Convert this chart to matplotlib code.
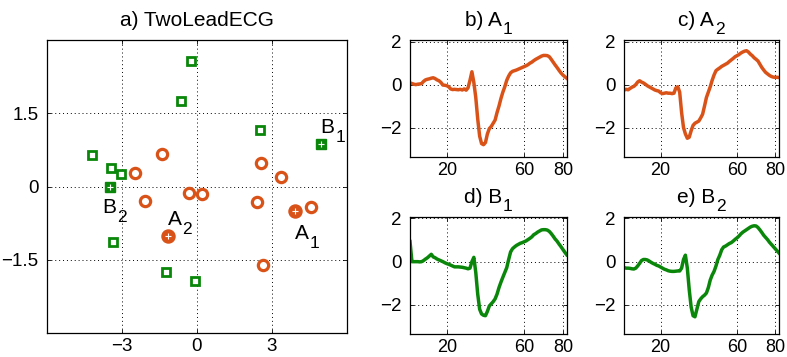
import matplotlib
matplotlib.use("Agg")
import matplotlib.pyplot as plt
from matplotlib.transforms import offset_copy

plt.rcParams['font.family'] = ['Liberation Sans', 'DejaVu Sans']

ORANGE = '#D95319'
GREEN = '#0A870A'

# ---- scatter data (panel a) ----
sq_x = [-0.24, -0.65, 2.5, -4.19, -3.45, -3.04, -3.35, -1.26, -0.07]
sq_y = [2.56, 1.75, 1.15, 0.64, 0.37, 0.25, -1.14, -1.75, -1.93]
ci_x = [-1.42, -2.5, -2.08, -0.31, 0.2, 2.54, 3.35, 2.41, 4.57, 2.63]
ci_y = [0.67, 0.27, -0.29, -0.13, -0.15, 0.48, 0.19, -0.32, -0.41, -1.6]
sel_sq_x = [4.95, -3.49]   # B1, B2
sel_sq_y = [0.87, -0.01]
sel_ci_x = [3.9, -1.18]    # A1, A2
sel_ci_y = [-0.51, -1.01]

# ---- time series (panels b-e) ----
t = list(range(1, 83))
A1 = [0.08, 0.05, 0.02, 0.0, 0.02, 0.03, 0.05, 0.15, 0.22, 0.25,
      0.27, 0.3, 0.32, 0.28, 0.22, 0.18, 0.1, -0.02, -0.03, -0.05,
      -0.1, -0.2, -0.23, -0.22, -0.23, -0.24, -0.22, -0.25, -0.2, -0.26,
      -0.15, 0.2, 0.6, 0.1, -0.6, -1.6, -2.4, -2.75, -2.8, -2.7,
      -2.3, -2.05, -1.95, -1.8, -1.65, -1.3, -1.0, -0.65, -0.35, -0.1,
      0.2, 0.4, 0.55, 0.62, 0.65, 0.68, 0.72, 0.76, 0.8, 0.84,
      0.88, 0.93, 1.0, 1.05, 1.12, 1.18, 1.23, 1.28, 1.33, 1.36,
      1.36, 1.35, 1.3, 1.18, 1.05, 0.92, 0.8, 0.67, 0.55, 0.45,
      0.37, 0.3]
A2 = [-0.25, -0.22, -0.24, -0.18, -0.12, -0.08, 0.0, 0.12, 0.18, 0.12,
      0.08, 0.02, -0.05, -0.1, -0.15, -0.2, -0.25, -0.28, -0.3, -0.38,
      -0.42, -0.4, -0.38, -0.4, -0.4, -0.42, -0.4, -0.15, -0.1, -0.35,
      -1.3, -2.0, -2.3, -2.5, -2.45, -2.15, -1.9, -1.8, -1.75, -1.7,
      -1.55, -1.38, -1.0, -0.6, -0.35, -0.1, 0.2, 0.45, 0.65, 0.72,
      0.78, 0.85, 0.9, 0.95, 1.0, 1.08, 1.15, 1.22, 1.3, 1.35,
      1.4, 1.47, 1.52, 1.56, 1.58, 1.52, 1.42, 1.35, 1.25, 1.18,
      1.1, 0.95, 0.8, 0.68, 0.57, 0.5, 0.43, 0.38, 0.35, 0.34,
      0.34, 0.33]
B1 = [0.93, 0.0, 0.0, 0.0, 0.0, -0.01, 0.0, 0.05, 0.12, 0.18,
      0.26, 0.34, 0.22, 0.18, 0.12, 0.08, 0.04, 0.0, -0.05, -0.09,
      -0.12, -0.16, -0.2, -0.24, -0.24, -0.24, -0.25, -0.26, -0.28, -0.3,
      -0.33, -0.3, 0.0, 0.2, -0.5, -1.5, -2.2, -2.42, -2.48, -2.5,
      -2.3, -2.05, -1.95, -1.85, -1.72, -1.5, -1.2, -0.95, -0.72, -0.5,
      -0.28, 0.1, 0.45, 0.6, 0.68, 0.75, 0.8, 0.85, 0.88, 0.92,
      0.96, 1.02, 1.08, 1.15, 1.25, 1.3, 1.37, 1.42, 1.47, 1.48,
      1.48, 1.46, 1.4, 1.3, 1.18, 1.05, 0.95, 0.82, 0.7, 0.57,
      0.44, 0.32]
B2 = [-0.28, -0.3, -0.3, -0.31, -0.33, -0.34, -0.3, -0.2, -0.08, 0.05,
      0.1, 0.1, 0.08, 0.03, -0.03, -0.08, -0.12, -0.17, -0.2, -0.25,
      -0.3, -0.35, -0.38, -0.42, -0.44, -0.45, -0.45, -0.44, -0.43, -0.43,
      -0.3, 0.1, 0.3, -0.3, -1.3, -2.1, -2.5, -2.55, -2.2, -1.85,
      -1.72, -1.62, -1.55, -1.45, -1.2, -0.85, -0.62, -0.45, -0.2, 0.1,
      0.3, 0.55, 0.68, 0.72, 0.78, 0.84, 0.88, 0.95, 1.03, 1.1,
      1.18, 1.28, 1.36, 1.42, 1.48, 1.54, 1.6, 1.64, 1.66, 1.65,
      1.58, 1.47, 1.35, 1.22, 1.12, 1.02, 0.9, 0.8, 0.7, 0.6,
      0.5, 0.4]

W, H = 787, 357
fig = plt.figure(figsize=(W / 100, H / 100), dpi=100)
renderer = fig.canvas.get_renderer()


def px_axes(left, top, right, bottom):
    return fig.add_axes([left / W, (H - bottom) / H, (right - left) / W, (bottom - top) / H])


def style_axes(ax, fs=13.5):
    ax.grid(True, linestyle=(0, (1, 3)), color='black', linewidth=0.7)
    ax.set_axisbelow(True)
    ax.tick_params(direction='in', length=3, width=0.6, labelsize=fs, pad=6,
                   top=True, right=True)
    ax.tick_params(axis='x', pad=3.5)
    for s in ax.spines.values():
        s.set_linewidth(0.9)


def sub_text(ax, x, y, main, sub, size, subsize, drop, transform, center=False):
    t1 = ax.text(x, y, main, fontsize=size, ha='left', va='baseline',
                 transform=transform, clip_on=False)
    w1 = t1.get_window_extent(renderer).width
    t2 = ax.text(x, y, sub, fontsize=subsize, ha='left', va='baseline',
                 transform=offset_copy(transform, fig, x=w1 + 1, y=-drop, units='dots'),
                 clip_on=False)
    if center:
        w2 = t2.get_window_extent(renderer).width
        tot = w1 + 1 + w2
        t1.set_transform(offset_copy(transform, fig, x=-tot / 2, y=0, units='dots'))
        t2.set_transform(offset_copy(transform, fig, x=w1 + 1 - tot / 2, y=-drop, units='dots'))


# ---- panel a ----
ax = px_axes(47, 40, 347, 333)
style_axes(ax)
ax.set_xlim(-6, 6)
ax.set_ylim(-3, 3)
ax.set_xticks([-3, 0, 3])
ax.set_yticks([-1.5, 0, 1.5])
ax.set_yticklabels(['\u22121.5', '0', '1.5'])
ax.set_xticklabels(['\u22123', '0', '3'])
ax.plot(sq_x, sq_y, 's', ms=6.3, mfc='white', mec=GREEN, mew=2.0, linestyle='none')
ax.plot(ci_x, ci_y, 'o', ms=7.4, mfc='white', mec=ORANGE, mew=2.3, linestyle='none')
ax.plot(sel_sq_x, sel_sq_y, 's', ms=7.8, mfc=GREEN, mec=GREEN, mew=1.0, linestyle='none')
ax.plot(sel_sq_x, sel_sq_y, '+', ms=4, mec='white', mew=0.8, linestyle='none')
ax.plot(sel_ci_x, sel_ci_y, 'o', ms=9.4, mfc=ORANGE, mec=ORANGE, mew=1.0, linestyle='none')
ax.plot(sel_ci_x, sel_ci_y, '+', ms=5, mec='white', mew=0.8, linestyle='none')
ax.text(0.5, 1 + 14 / 293, 'a) TwoLeadECG', fontsize=15, ha='center', va='baseline',
        transform=ax.transAxes)
sub_text(ax, 3.9, -1.08, 'A', '1', 15, 12.5, 9, ax.transData)
sub_text(ax, 4.95, 1.09, 'B', '1', 15, 12.5, 9, ax.transData)
sub_text(ax, -1.18, -0.78, 'A', '2', 15, 12.5, 9, ax.transData)
sub_text(ax, -3.79, -0.55, 'B', '2', 15, 12.5, 9, ax.transData)

# ---- panels b-e ----
panels = [
    ((410, 40, 566.7, 156.7), A1, ORANGE, 'b) A', '1'),
    ((624.3, 40, 779, 156.7), A2, ORANGE, 'c) A', '2'),
    ((410, 216.7, 566.7, 334.3), B1, GREEN, 'd) B', '1'),
    ((624.3, 216.7, 779, 334.3), B2, GREEN, 'e) B', '2'),
]
for (l, tp, r, b), series, col, title, sub in panels:
    a = px_axes(l, tp, r, b)
    style_axes(a)
    a.plot(t, series, color=col, linewidth=2.5, solid_joinstyle='round')
    a.set_xlim(1, 82)
    a.set_ylim(-3.36, 2.08)
    a.set_xticks([20, 60, 80])
    a.set_yticks([-2, 0, 2])
    a.set_yticklabels(['\u22122', '0', '2'])
    a.tick_params(axis='x', labelsize=13)
    sub_text(a, 0.5, 1 + 13.5 / (b - tp), title, sub, 15, 12.5, 8, a.transAxes, center=True)

fig.savefig('out.png', dpi=100)
